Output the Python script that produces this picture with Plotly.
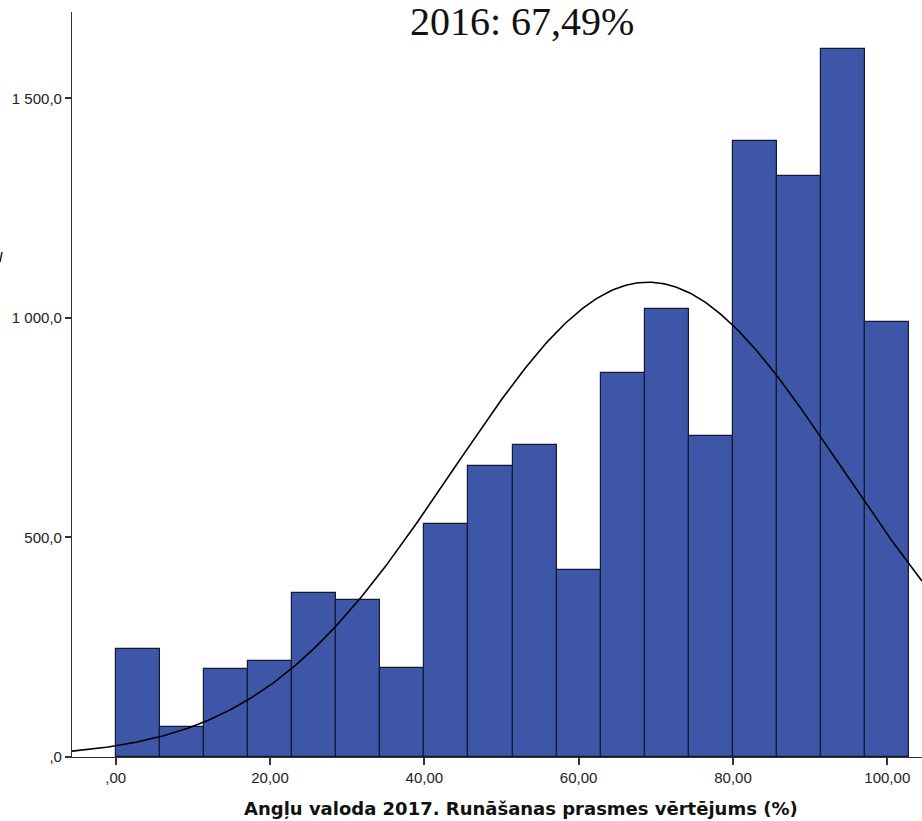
import numpy as np
import plotly.graph_objects as go

# Histogram bins: width 40/7 starting at 0
bin_width = 40 / 7
counts = [245, 68, 201, 218, 374, 358, 203, 530, 664, 710,
          427, 875, 1021, 732, 1404, 1323, 1612, 990]
bin_left = [i * bin_width for i in range(len(counts))]

# Normal curve parameters
curve_mean = 69.0
curve_sd = 25.2

x_ticks = [0, 20, 40, 60, 80, 100]
x_ticktext = [",00", "20,00", "40,00", "60,00", "80,00", "100,00"]
y_ticks = [0, 500, 1000, 1500]
y_ticktext = [",0", "500,0", "1 000,0", "1 500,0"]

x_range = [-5.66, 104.5]
y_range = [0, 1697]

centers = [b + bin_width / 2 for b in bin_left]
n_total = sum(counts)
xs = np.linspace(x_range[0], x_range[1], 400)
ys = n_total * bin_width / (curve_sd * np.sqrt(2 * np.pi)) * np.exp(-0.5 * ((xs - curve_mean) / curve_sd) ** 2)

fig = go.Figure()
fig.add_trace(go.Bar(
    x=centers, y=counts, width=bin_width,
    marker=dict(color="#3D56A8", line=dict(color="#141a33", width=1.2)),
    hoverinfo="x+y",
))
fig.add_trace(go.Scatter(
    x=xs, y=ys, mode="lines",
    line=dict(color="#000000", width=1.6),
    hoverinfo="skip",
))

W, H = 922, 821
ml, mr, mt, mb = 72, 0, 12, 64
pw, ph = W - ml - mr, H - mt - mb

def px_x(px):
    return (px - ml) / pw

def px_y(py):
    return (H - mb - py) / ph

tick_font = dict(family="Liberation Sans, Arial, sans-serif", size=15, color="#222222")

fig.update_layout(
    width=W, height=H,
    margin=dict(l=ml, r=mr, t=mt, b=mb),
    paper_bgcolor="white", plot_bgcolor="white",
    showlegend=False,
    bargap=0,
    xaxis=dict(
        range=x_range, tickvals=x_ticks, ticktext=x_ticktext,
        showgrid=False, zeroline=False,
        showline=True, linecolor="#333333", linewidth=1.2,
        ticks="outside", ticklen=7, tickwidth=1.5, tickcolor="#333333",
        tickfont=tick_font,
    ),
    yaxis=dict(
        range=y_range, tickvals=y_ticks, ticktext=y_ticktext,
        showgrid=False, zeroline=False,
        showline=True, linecolor="#333333", linewidth=1.2,
        ticks="outside", ticklen=6, tickwidth=1.5, tickcolor="#333333",
        tickfont=tick_font,
    ),
    annotations=[
        dict(text="2016: 67,49%", xref="paper", yref="paper",
             x=px_x(522), y=px_y(22), xanchor="center", yanchor="middle",
             showarrow=False,
             font=dict(family="Liberation Serif, Times New Roman, serif", size=40, color="#111111")),
        dict(text="<b>Angļu valoda 2017. Runāšanas prasmes vērtējums (%)</b>",
             xref="paper", yref="paper",
             x=px_x(521), y=px_y(808), xanchor="center", yanchor="middle",
             showarrow=False,
             font=dict(family="DejaVu Sans, Verdana, sans-serif", size=18, color="#111111")),
    ],
    shapes=[
        dict(type="line", xref="paper", yref="paper",
             x0=px_x(0), y0=px_y(262), x1=px_x(2), y1=px_y(252),
             line=dict(color="#222222", width=1.5)),
    ],
)

fig.write_html("out.html")
